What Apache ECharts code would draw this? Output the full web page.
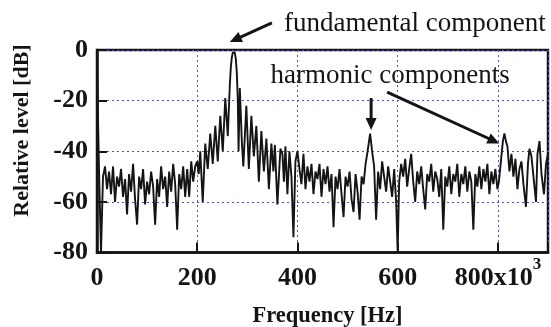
<!DOCTYPE html>
<html><head><meta charset="utf-8">
<script src="https://cdn.jsdelivr.net/npm/echarts@6/dist/echarts.min.js"></script>
<style>html,body{margin:0;padding:0;background:#fff}#c{width:551px;height:327px}</style>
</head><body><div id="c"></div>
<script>
// Spectrum (frequency in Hz, level in dB)
const freqHz = [
  0,4,8,12,16,20,24,28,32,36,40,44,48,52,56,60,64,68,72,76,80,84,88,92,96,100,104,108,112,116,120,124,128,132,136,140,144,148,152,156,160,164,168,172,176,180,184,188,192,196,
  200,203,206,211,216,221,226,231,236,241,246,251,256,261,263,265,267,269,271,273,275,277,279,281,282.5,285,289,292,298,303,308,313,318,323,328,333,338,343,348,352,355,360,366,370,373,376,380,384,388,392,396,400,
  404,408,412,416,420,424,428,432,436,440,444,448,452,456,460,464,468,472,476,480,484,488,492,496,500,504,508,512,516,520,524,528,532,536,
  540,545,549,553,557,561,565,569,573,577,581,585,589,593,597,600,603,607,611,615,619,623,627,631,635,639,643,647,651,655,659,663,667,671,675,679,683,687,691,695,699,703,707,711,715,719,723,727,731,735,739,743,747,751,755,759,763,767,771,775,779,783,787,791,795,799,
  802,806,810,813,816,819,823,827,831,835,839,843,847,851,856,860,863,867,871,876,879,883,887,892,896,900
];
const levelDb = [
  -7,-47,-80,-50,-46,-55,-48,-57,-46,-60,-50,-54,-47,-58,-51,-65,-49,-56,-45,-59,-69,-50,-55,-47,-61,-52,-57,-48,-54,-69,-51,-58,-46,-55,-50,-62,-48,-56,-45,-53,-71,-49,-55,-46,-58,-47,-58,-44,-52,-46,
  -44,-49,-40,-60,-37,-47,-33,-45,-30,-44,-26,-40,-19,-34,-24,-14,-7,-3,-1,-0.5,-1,-3.5,-9,-20,-40,-15,-36,-46,-22,-47,-26,-42,-30,-52,-32,-48,-35,-55,-37,-48,-37.5,-61,-39,-41,-52,-38,-57,-40,-50,-74,-44,-40,
  -47,-53,-41,-55,-46,-52,-45,-57,-48,-51,-45,-58,-47,-53,-46,-56,-49,-70,-50,-55,-47,-57,-66,-50,-54,-48,-59,-64,-49,-56,-67,-50,-53,-45,
  -40,-33,-40,-46,-67,-48,-55,-44,-50,-56,-46,-52,-58,-47,-60,-80,-52,-45,-50,-43,-54,-47,-41,-52,-60,-48,-53,-46,-55,-63,-49,-52,-45,-56,-48,-51,-58,-47,-71,-50,-54,-46,-57,-49,-52,-45,-58,-49,-53,-46,-56,-48,-52,-71,-49,-54,-46,-55,-47,-52,-45,-57,-48,-53,-47,-55,
  -52,-44,-36,-33,-36,-38,-48,-41,-50,-43,-55,-47,-44,-53,-62,-45,-39,-42,-50,-60,-41,-36,-49,-57,-45,-41
];
const xTickLabels = [0, 200, 400, 600, 800];
const yTickLabels = [0, -20, -40, -60, -80];
const xAxisTitle = 'Frequency [Hz]';
const yAxisTitle = 'Relative level [dB]';
const noteFundamental = 'fundamental component';
const noteHarmonic = 'harmonic components';
// arrows: [tail Hz, tail dB, tip Hz, tip dB]
const arrowFundamental = [349, 10.7, 265, 3.2];
const arrowHarmonic1 = [547, -19, 547, -31.6];
const arrowHarmonic2 = [579, -16.6, 803, -36.9];

const serif = '"Liberation Serif","Times New Roman",serif';
const ink = '#141414';
const chart = echarts.init(document.getElementById('c'));
const data = freqHz.map((f, i) => [f, levelDb[i]]);

chart.setOption({
  animation: false,
  grid: { left: 97, right: 3, top: 50, bottom: 74.5, show: true, borderColor: ink, borderWidth: 2.5, outerBoundsMode: 'none' },
  xAxis: {
    type: 'value', min: 0, max: 900, interval: 200,
    axisLine: { show: true, onZero: false, lineStyle: { color: ink, width: 2.5 } },
    axisTick: { show: true, inside: true, length: 10, lineStyle: { color: ink, width: 2 } },
    splitLine: { show: true, lineStyle: { color: '#5a50b4', type: [2, 3], width: 1 } },
    axisLabel: {
      margin: 4,
      formatter: v => v === 800 ? '{a|800x10}{s|3}' : (xTickLabels.includes(v) ? '{a|' + v + '}' : ''),
      rich: {
        a: { fontFamily: serif, fontWeight: 'bold', fontSize: 26, color: ink, padding: [9, 0, 0, 0] },
        s: { fontFamily: serif, fontWeight: 'bold', fontSize: 17, color: ink, verticalAlign: 'top' }
      }
    }
  },
  yAxis: {
    type: 'value', min: -80, max: 0, interval: 20,
    axisLine: { show: true, onZero: false, lineStyle: { color: ink, width: 2.5 } },
    axisTick: { show: true, inside: true, length: 10, lineStyle: { color: ink, width: 2 } },
    splitLine: { show: true, lineStyle: { color: '#5a50b4', type: [2, 3], width: 1 } },
    axisLabel: {
      margin: 9, fontFamily: serif, fontWeight: 'bold', fontSize: 26, color: ink,
      formatter: v => yTickLabels.includes(v) ? String(v) : ''
    }
  },
  series: [{
    type: 'line', data: data, showSymbol: false, symbol: 'none',
    lineStyle: { color: ink, width: 1.9 }, z: 3
  }]
});

function arrow(a, id) {
  const p0 = chart.convertToPixel({ gridIndex: 0 }, [a[0], a[1]]);
  const p1 = chart.convertToPixel({ gridIndex: 0 }, [a[2], a[3]]);
  const dx = p1[0] - p0[0], dy = p1[1] - p0[1];
  const L = Math.hypot(dx, dy), ux = dx / L, uy = dy / L;
  const hl = 12, hw = 5.5;
  const bx = p1[0] - ux * hl, by = p1[1] - uy * hl;
  return [
    { type: 'line', id: id + 'l', z: 10, shape: { x1: p0[0], y1: p0[1], x2: bx + ux * 2, y2: by + uy * 2 }, style: { stroke: ink, lineWidth: 3 } },
    { type: 'polygon', id: id + 'h', z: 10, shape: { points: [[p1[0], p1[1]], [bx - uy * hw, by + ux * hw], [bx + uy * hw, by - ux * hw]] }, style: { fill: ink } }
  ];
}

chart.setOption({
  graphic: [
    { type: 'text', id: 't1', x: 284, y: 24, z: 10, style: { text: noteFundamental, fontFamily: serif, fontSize: 27, fill: ink, align: 'left', verticalAlign: 'middle' } },
    { type: 'text', id: 't2', x: 270.5, y: 76, z: 10, style: { text: noteHarmonic, fontFamily: serif, fontSize: 27, fill: ink, align: 'left', verticalAlign: 'middle' } },
    { type: 'text', id: 'xt', x: 327.5, y: 316.5, z: 10, style: { text: xAxisTitle, fontFamily: serif, fontWeight: 'bold', fontSize: 22.5, fill: ink, align: 'center', verticalAlign: 'middle' } },
    { type: 'text', id: 'yt', x: 22.5, y: 130.5, rotation: Math.PI / 2, z: 10, style: { text: yAxisTitle, fontFamily: serif, fontWeight: 'bold', fontSize: 22, fill: ink, align: 'center', verticalAlign: 'middle' } }
  ].concat(arrow(arrowFundamental, 'a1'), arrow(arrowHarmonic1, 'a2'), arrow(arrowHarmonic2, 'a3'))
});
</script></body></html>
